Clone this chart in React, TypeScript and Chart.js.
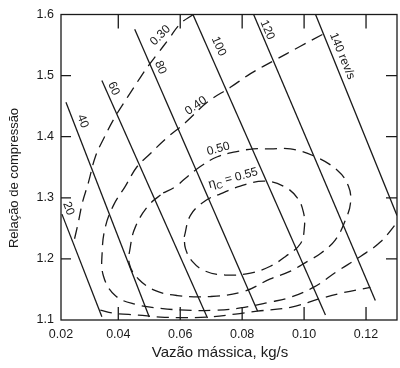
import React, { useEffect, useRef } from "react";
import { Chart, registerables } from "chart.js";

Chart.register(...registerables);

type Pt = [number, number];

// ---- axes ----
const X_MIN = 0.0215;
const X_MAX = 0.13;
const Y_MIN = 1.1;
const Y_MAX = 1.6;
const xTickValues = [0.0215, 0.04, 0.06, 0.08, 0.1, 0.12];
const xTickLabels = ["0.02", "0.04", "0.06", "0.08", "0.10", "0.12"];
const yTickValues = [1.1, 1.2, 1.3, 1.4, 1.5, 1.6];
const yTickLabels = ["1.1", "1.2", "1.3", "1.4", "1.5", "1.6"];
const xTitle = "Vazão mássica, kg/s";
const yTitle = "Relação de compressão";

// ---- constant speed lines (rev/s) ----
const speedNames = ["20", "40", "60", "80", "100", "120", "140 rev/s"];
const speed20: Pt[] = [[0.0218, 1.2733], [0.0347, 1.1053]];
const speed40: Pt[] = [[0.0231, 1.4563], [0.05, 1.1048]];
const speed60: Pt[] = [[0.0347, 1.492], [0.0688, 1.1032]];
const speed80: Pt[] = [[0.0453, 1.5757], [0.085, 1.1144]];
const speed100: Pt[] = [[0.0641, 1.6], [0.1069, 1.108]];
const speed120: Pt[] = [[0.0837, 1.6], [0.123, 1.132]];
const speed140: Pt[] = [[0.1037, 1.6], [0.13, 1.2712]];
const speedLines = [speed20, speed40, speed60, speed80, speed100, speed120, speed140];
const speedLabelX = [0.0239, 0.0285, 0.0385, 0.0536, 0.0724, 0.0881, 0.1123];
const speedLabelY = [1.2824, 1.4253, 1.4787, 1.5133, 1.548, 1.5747, 1.532];

// ---- efficiency contours ----
const eff30Upper: Pt[] = [
  [0.0642, 1.6], [0.06, 1.5848], [0.0562, 1.5592], [0.0526, 1.5352], [0.0497, 1.516],
  [0.0471, 1.4968], [0.0432, 1.4664], [0.039, 1.4328], [0.0355, 1.3992], [0.0326, 1.3672],
  [0.0303, 1.324], [0.0284, 1.292], [0.0271, 1.26], [0.0255, 1.2248],
];
const eff30Lower: Pt[] = [
  [0.0342, 1.116], [0.0384, 1.1112], [0.0465, 1.108], [0.0536, 1.1048], [0.0617, 1.104],
  [0.0688, 1.1048], [0.0778, 1.1096], [0.0849, 1.1144], [0.0956, 1.1208], [0.1053, 1.1352],
  [0.1127, 1.1448], [0.1214, 1.1533],
];
const eff40: Pt[] = [
  [0.1059, 1.5672], [0.0988, 1.548], [0.0901, 1.524], [0.0827, 1.5032], [0.0762, 1.4808],
  [0.0688, 1.4568], [0.0617, 1.4232], [0.0552, 1.396], [0.0503, 1.372], [0.0461, 1.3512],
  [0.0423, 1.3192], [0.0384, 1.2872], [0.0358, 1.252], [0.0348, 1.212], [0.0352, 1.172],
  [0.039, 1.14], [0.0455, 1.1256], [0.0536, 1.1192], [0.0617, 1.116], [0.0707, 1.116],
  [0.0794, 1.1197], [0.0891, 1.1293], [0.0956, 1.1373], [0.103, 1.1533], [0.1108, 1.18],
  [0.1182, 1.204], [0.1247, 1.228], [0.1301, 1.26],
];
const eff50: Pt[] = [
  [0.0545, 1.308], [0.0584, 1.318], [0.0617, 1.332], [0.0665, 1.3512], [0.072, 1.3672],
  [0.0778, 1.3752], [0.0836, 1.38], [0.0891, 1.38], [0.0956, 1.38], [0.103, 1.3688],
  [0.1108, 1.3448], [0.1143, 1.3192], [0.115, 1.292], [0.1133, 1.2632], [0.1101, 1.2312],
  [0.1053, 1.2088], [0.1011, 1.196], [0.0956, 1.18], [0.0891, 1.1672], [0.0804, 1.1464],
  [0.0697, 1.1384], [0.0591, 1.14], [0.052, 1.148], [0.0465, 1.1672], [0.0436, 1.1912],
  [0.0439, 1.22], [0.0455, 1.252], [0.0497, 1.2872], [0.0545, 1.308],
];
const eff55: Pt[] = [
  [0.0613, 1.236], [0.0633, 1.2712], [0.0681, 1.2952], [0.073, 1.3064], [0.0794, 1.3192],
  [0.0869, 1.3272], [0.0933, 1.3192], [0.0978, 1.3], [0.0998, 1.276], [0.1001, 1.252],
  [0.0988, 1.2248], [0.094, 1.204], [0.0891, 1.188], [0.0827, 1.1768], [0.0746, 1.1736],
  [0.0681, 1.18], [0.0639, 1.196], [0.0617, 1.2168], [0.0613, 1.236],
];
const effCurves = [eff30Upper, eff30Lower, eff40, eff50, eff55];
const effNames = ["0.30", "0.40", "0.50", "0.55"];
const effLabelX = [0.0536, 0.0651, 0.0723, 0.0771];
const effLabelY = [1.5656, 1.4507, 1.38, 1.332];

const INK = "#1a1a1a";
const FONT = "'Liberation Sans', Arial, Helvetica, sans-serif";

const toXY = (pts: Pt[]) => pts.map(([x, y]) => ({ x, y }));

type Part = { text: string; size: number; dy: number };

function drawRotated(ctx: CanvasRenderingContext2D, parts: Part[], cx: number, cy: number, ang: number) {
  ctx.save();
  ctx.translate(cx, cy);
  ctx.rotate(ang);
  let total = 0;
  for (const p of parts) {
    ctx.font = `${p.size}px ${FONT}`;
    total += ctx.measureText(p.text).width;
  }
  let x0 = -total / 2;
  ctx.textAlign = "left";
  ctx.textBaseline = "middle";
  for (const p of parts) {
    ctx.font = `${p.size}px ${FONT}`;
    ctx.fillText(p.text, x0, p.dy);
    x0 += ctx.measureText(p.text).width;
  }
  ctx.restore();
}

const decorPlugin = {
  id: "decor",
  afterDatasetsDraw(chart: any) {
    const { ctx, chartArea: a, scales } = chart;
    const xs = scales.x;
    const ys = scales.y;
    ctx.save();
    ctx.strokeStyle = INK;
    ctx.lineWidth = 1.3;
    ctx.strokeRect(a.left, a.top, a.right - a.left, a.bottom - a.top);
    ctx.beginPath();
    for (const v of xTickValues) {
      const px = xs.getPixelForValue(v);
      if (px <= a.left + 2 || px >= a.right - 2) continue;
      ctx.moveTo(px, a.bottom);
      ctx.lineTo(px, a.bottom - 13);
      ctx.moveTo(px, a.top);
      ctx.lineTo(px, a.top + 14);
    }
    for (const v of yTickValues) {
      const py = ys.getPixelForValue(v);
      if (py <= a.top + 2 || py >= a.bottom - 2) continue;
      ctx.moveTo(a.left, py);
      ctx.lineTo(a.left + 10, py);
      ctx.moveTo(a.right, py);
      ctx.lineTo(a.right - 11, py);
    }
    ctx.stroke();

    ctx.fillStyle = INK;
    // speed labels, rotated along their lines
    speedLines.forEach((line, i) => {
      const p1x = xs.getPixelForValue(line[0][0]);
      const p1y = ys.getPixelForValue(line[0][1]);
      const p2x = xs.getPixelForValue(line[1][0]);
      const p2y = ys.getPixelForValue(line[1][1]);
      const ang = Math.atan2(p2y - p1y, p2x - p1x);
      drawRotated(
        ctx,
        [{ text: speedNames[i], size: 12, dy: 0 }],
        xs.getPixelForValue(speedLabelX[i]),
        ys.getPixelForValue(speedLabelY[i]),
        ang
      );
    });
    // efficiency labels
    const effAngles = [-45, -35, -15, -15];
    effNames.forEach((name, i) => {
      const cx = xs.getPixelForValue(effLabelX[i]);
      const cy = ys.getPixelForValue(effLabelY[i]);
      const ang = (effAngles[i] * Math.PI) / 180;
      const parts: Part[] =
        i === 3
          ? [
              { text: "η", size: 13, dy: 0 },
              { text: "C", size: 9, dy: 4 },
              { text: " = " + name, size: 12, dy: 0 },
            ]
          : [{ text: name, size: 12, dy: 0 }];
      drawRotated(ctx, parts, cx, cy, ang);
    });

    // axis titles
    ctx.fillStyle = INK;
    ctx.textAlign = "center";
    ctx.textBaseline = "middle";
    ctx.font = `15px ${FONT}`;
    ctx.fillText(xTitle, 220, 353);
    ctx.save();
    ctx.translate(14, 178);
    ctx.rotate(-Math.PI / 2);
    ctx.font = `13px ${FONT}`;
    ctx.fillText(yTitle, 0, 0);
    ctx.restore();
    ctx.restore();
  },
};

export default function App() {
  const ref = useRef<HTMLCanvasElement | null>(null);
  useEffect(() => {
    document.body.style.margin = "0";
    const solid = speedLines.map((l) => ({
      data: toXY(l),
      showLine: true,
      borderColor: INK,
      borderWidth: 1.3,
      pointRadius: 0,
      tension: 0,
    }));
    const dashed = effCurves.map((c) => ({
      data: toXY(c),
      showLine: true,
      borderColor: INK,
      borderWidth: 1.3,
      borderDash: [12, 7],
      pointRadius: 0,
      tension: 0.4,
    }));
    const chart = new Chart(ref.current as HTMLCanvasElement, {
      type: "scatter",
      data: { datasets: [...solid, ...dashed] as any },
      plugins: [decorPlugin],
      options: {
        responsive: false,
        animation: false,
        devicePixelRatio: 1,
        layout: { padding: { top: 7, right: 3, left: 0, bottom: 0 } },
        plugins: { legend: { display: false }, tooltip: { enabled: false } },
        scales: {
          x: {
            type: "linear",
            min: X_MIN,
            max: X_MAX,
            grid: { display: false, drawTicks: false },
            border: { display: false },
            afterFit: (s: any) => {
              s.height = 48;
            },
            afterBuildTicks: (s: any) => {
              s.ticks = xTickValues.map((v) => ({ value: v }));
            },
            ticks: {
              padding: 7,
              color: INK,
              font: { family: FONT, size: 12.5 },
              callback: (v: any) => {
                const i = xTickValues.findIndex((t) => Math.abs(t - Number(v)) < 1e-6);
                return i >= 0 ? xTickLabels[i] : "";
              },
            },
          },
          y: {
            type: "linear",
            min: Y_MIN,
            max: Y_MAX,
            grid: { display: false, drawTicks: false },
            border: { display: false },
            afterFit: (s: any) => {
              s.width = 61;
            },
            afterBuildTicks: (s: any) => {
              s.ticks = yTickValues.map((v) => ({ value: v }));
            },
            ticks: {
              padding: 7,
              color: INK,
              font: { family: FONT, size: 12.5 },
              callback: (v: any) => {
                const i = yTickValues.findIndex((t) => Math.abs(t - Number(v)) < 1e-6);
                return i >= 0 ? yTickLabels[i] : "";
              },
            },
          },
        },
      } as any,
    });
    return () => chart.destroy();
  }, []);
  return (
    <div style={{ width: 400, height: 368 }}>
      <canvas ref={ref} width={400} height={368} style={{ display: "block" }} />
    </div>
  );
}
